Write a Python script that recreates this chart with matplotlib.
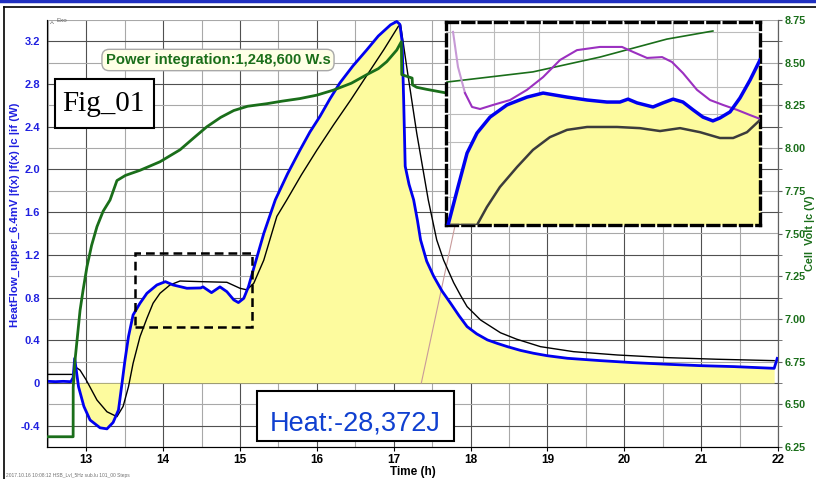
import numpy as np
import matplotlib
matplotlib.use("Agg")
import matplotlib.pyplot as plt
from matplotlib.lines import Line2D
from matplotlib.patches import Rectangle
from matplotlib.ticker import FuncFormatter, MultipleLocator

plt.rcParams['font.family'] = ['Liberation Sans', 'DejaVu Sans']

# heat flow (W) measured, blue
t_blue = [12.50, 12.60, 12.70, 12.80, 12.83, 12.85, 12.90, 12.97, 13.05, 13.18,
          13.27, 13.35, 13.42, 13.46, 13.505, 13.55, 13.61, 13.70, 13.79, 13.92,
          14.03, 14.13, 14.31, 14.49, 14.52, 14.63, 14.74, 14.83, 14.92, 14.98,
          15.05, 15.11, 15.18, 15.31, 15.46, 15.62, 15.78, 15.91, 16.04, 16.17,
          16.30, 16.47, 16.65, 16.80, 16.96, 17.04, 17.08, 17.11, 17.13, 17.15,
          17.20, 17.26, 17.31, 17.35, 17.43, 17.52, 17.63, 17.74, 17.85, 17.955,
          18.08, 18.22, 18.35, 18.48, 18.65, 18.82, 19.00, 19.26, 19.69, 20.12,
          20.56, 20.99, 21.43, 21.95, 21.99]
w_blue = [0.015, 0.012, 0.015, 0.012, 0.05, 0.23, -0.035, -0.22, -0.347, -0.42,
          -0.43, -0.37, -0.253, -0.035, 0.215, 0.434, 0.637, 0.747, 0.84, 0.918,
          0.949, 0.918, 0.887, 0.89, 0.90, 0.846, 0.90, 0.855, 0.778, 0.753,
          0.793, 0.90, 1.075, 1.40, 1.715, 1.96, 2.18, 2.35, 2.496, 2.66,
          2.81, 2.97, 3.12, 3.25, 3.355, 3.386, 3.36, 3.20, 2.65, 2.03,
          1.86, 1.715, 1.52, 1.34, 1.14, 1.0, 0.86, 0.747, 0.63, 0.528,
          0.46, 0.403, 0.37, 0.34, 0.305, 0.278, 0.255, 0.231, 0.209, 0.19,
          0.175, 0.162, 0.153, 0.137, 0.23]

# heat flow model, thin black
t_black = [12.50, 12.84, 12.86, 12.92, 13.00, 13.14, 13.27, 13.40, 13.48, 13.55,
           13.61, 13.70, 13.79, 13.87, 13.96, 14.09, 14.22, 14.49, 14.83, 15.00,
           15.09, 15.18, 15.31, 15.48, 15.61, 15.80, 16.00, 16.22, 16.44, 16.65,
           16.87, 17.06, 17.09, 17.17, 17.30, 17.45, 17.56, 17.65, 17.78, 17.87,
           17.955, 18.13, 18.39, 18.60, 18.91, 19.34, 19.91, 20.56, 21.21, 21.95]
w_black = [0.08, 0.08, 0.15, 0.12, 0.028, -0.16, -0.27, -0.316, -0.22, -0.035,
           0.184, 0.434, 0.606, 0.747, 0.84, 0.918, 0.955, 0.949, 0.943, 0.887,
           0.872, 0.934, 1.15, 1.56, 1.715, 1.95, 2.18, 2.42, 2.65, 2.88,
           3.12, 3.34, 3.355, 2.96, 2.34, 1.715, 1.34, 1.15, 0.94, 0.82,
           0.715, 0.59, 0.47, 0.41, 0.34, 0.293, 0.262, 0.237, 0.222, 0.209]

# cell voltage (V), green, right axis
t_green = [12.50, 12.83, 12.831, 12.855, 12.92, 12.96, 13.01, 13.07, 13.14, 13.22,
           13.31, 13.40, 13.51, 13.70, 13.96, 14.22, 14.40, 14.57, 14.75, 14.92,
           15.10, 15.35, 15.55, 15.78, 16.00, 16.22, 16.45, 16.65, 16.80, 16.91,
           17.04, 17.10, 17.105, 17.24, 17.245, 17.30, 17.43, 17.67]
v_green = [6.31, 6.31, 6.60, 6.76, 7.05, 7.17, 7.306, 7.43, 7.54, 7.63,
           7.696, 7.81, 7.84, 7.87, 7.92, 7.99, 8.06, 8.125, 8.18, 8.22,
           8.245, 8.26, 8.275, 8.29, 8.31, 8.34, 8.38, 8.43, 8.465, 8.506,
           8.574, 8.623, 8.43, 8.41, 8.37, 8.356, 8.344, 8.324]

# magnified view (same units as the dashed box)
ti_blue = [13.66, 13.708, 13.752, 13.80, 13.863, 13.945, 14.042, 14.12, 14.236, 14.333,
           14.429, 14.492, 14.531, 14.575, 14.652, 14.70, 14.749, 14.797, 14.846, 14.894,
           14.942, 14.976, 15.025, 15.073, 15.122, 15.17]
wi_blue = [0.50, 0.631, 0.748, 0.817, 0.872, 0.914, 0.941, 0.955, 0.941, 0.931,
           0.924, 0.924, 0.934, 0.921, 0.907, 0.921, 0.934, 0.924, 0.897, 0.872,
           0.859, 0.869, 0.890, 0.938, 1.0, 1.069]
ti_black = [13.66, 13.80, 13.848, 13.911, 13.994, 14.071, 14.153, 14.236, 14.333, 14.478,
            14.589, 14.686, 14.783, 14.88, 14.976, 15.04, 15.107, 15.17]
wi_black = [0.50, 0.50, 0.562, 0.631, 0.70, 0.759, 0.803, 0.828, 0.838, 0.838,
            0.834, 0.824, 0.834, 0.82, 0.80, 0.80, 0.82, 0.862]
ti_purple = [13.684, 13.708, 13.742, 13.776, 13.815, 13.878, 13.96, 14.042, 14.12, 14.202,
             14.284, 14.395, 14.502, 14.555, 14.623, 14.696, 14.744, 14.797, 14.865, 14.928,
             14.991, 15.059, 15.122, 15.17]
wi_purple = [1.166, 1.045, 0.955, 0.907, 0.90, 0.914, 0.931, 0.966, 1.01, 1.069,
             1.103, 1.114, 1.114, 1.097, 1.076, 1.079, 1.062, 1.024, 0.966, 0.931,
             0.914, 0.897, 0.879, 0.866]
ti_green = [13.655, 14.071, 14.395, 14.719, 14.942]
wi_green = [0.993, 1.028, 1.079, 1.141, 1.169]

zoom_box_t = [13.63, 15.16]
zoom_box_w = [0.52, 1.22]
connector_t = [17.36, 17.80]
connector_w = [0.0, 1.48]

BLUE = '#0000f0'
GREEN = '#1a6e1a'
YELLOW = '#fdfb9e'

fig = plt.figure(figsize=(8.16, 4.79), dpi=100)
ax = fig.add_axes([47 / 816, 1 - 447 / 479, 731 / 816, 427 / 479])
ax.set_xlim(12.49, 22.0)
ax.set_ylim(-0.6, 3.4)
ax.set_axisbelow(True)

ax.xaxis.set_major_locator(MultipleLocator(1))
ax.xaxis.set_minor_locator(MultipleLocator(0.5))
ax.yaxis.set_major_locator(MultipleLocator(0.4))
ax.yaxis.set_minor_locator(MultipleLocator(0.2))
ax.grid(which='major', color='#505050', lw=0.8)
ax.grid(which='minor', color='#a8a8a8', lw=0.8)
ax.yaxis.set_major_formatter(FuncFormatter(lambda v, p: '0' if abs(v) < 1e-9 else f'{v:.1f}'))
ax.tick_params(axis='y', which='both', length=0, pad=5, labelsize=8, labelcolor='#2020e0')
ax.tick_params(axis='x', which='major', length=3, pad=2, labelsize=8.5)
ax.tick_params(axis='x', which='minor', length=0)
for lab in ax.get_xticklabels() + ax.get_yticklabels():
    lab.set_fontweight('bold')
ax.spines['top'].set_visible(False)
for s in ('left', 'bottom', 'right'):
    ax.spines[s].set_color('#606060')

ax.fill_between(t_blue[5:-1], 0, w_blue[5:-1], color=YELLOW, lw=0, zorder=1)
ax.plot(connector_t, connector_w, color='#c89a9a', lw=0.8, zorder=2)
ax.plot(t_black, w_black, color='black', lw=1.0, zorder=3)
ax.plot(t_blue, w_blue, color=BLUE, lw=2.0, zorder=4)
ax.add_patch(Rectangle((zoom_box_t[0], zoom_box_w[0]), zoom_box_t[1] - zoom_box_t[0],
                       zoom_box_w[1] - zoom_box_w[0], fill=False, ec='black', lw=1.8,
                       ls=(0, (3.5, 2)), zorder=5))

ax.set_ylabel('HeatFlow_upper_6.4mV |f(x) |f(x) |c |if (W)', color='#2020e0',
              fontweight='bold', fontsize=8.2)
ax.yaxis.set_label_coords(-0.037, 0.545)
ax.set_xlabel('Time (h)', fontweight='bold', fontsize=8.5, labelpad=0)

ax2 = ax.twinx()
ax2.set_ylim(6.25, 8.75)
ax2.yaxis.set_major_locator(MultipleLocator(0.25))
ax2.yaxis.set_minor_locator(MultipleLocator(0.125))
ax2.yaxis.set_major_formatter(FuncFormatter(lambda v, p: f'{v:.2f}'))
ax2.tick_params(axis='y', which='both', length=3, pad=1.5, labelsize=7.8,
                labelcolor=GREEN, color='#606060')
for lab in ax2.get_yticklabels():
    lab.set_fontweight('bold')
ax2.spines['top'].set_visible(False)
ax2.spines['right'].set_color('#606060')
ax2.plot(t_green, v_green, color=GREEN, lw=2.0, zorder=3)
ax2.set_ylabel('Cell  Volt |c (V)', color=GREEN, fontweight='bold', fontsize=7.8)
ax2.yaxis.set_label_coords(1.037, 0.5)

# magnified inset
axi = fig.add_axes([446 / 816, 1 - 225 / 479, 314 / 816, 203 / 479], zorder=10)
axi.set_xlim(13.65, 15.17)
axi.set_ylim(0.5, 1.2)
axi.set_xticks(np.arange(13.669, 15.1, 0.2155))
axi.set_yticks(np.arange(0.597, 1.19, 0.0948))
axi.grid(True, color='#bcbcbc', lw=0.8)
axi.set_axisbelow(True)
axi.tick_params(length=0, labelbottom=False, labelleft=False)
axi.fill_between(ti_blue, 0.5, wi_blue, color=YELLOW, lw=0, zorder=1)
axi.plot(ti_green, wi_green, color=GREEN, lw=1.2, zorder=2)
axi.plot(ti_purple[:3], wi_purple[:3], color='#c79ad6', lw=1.5, zorder=3)
axi.plot(ti_purple[2:], wi_purple[2:], color='#9b30c0', lw=1.5, zorder=3)
axi.plot(ti_black, wi_black, color='#3c3c3c', lw=1.8, zorder=3)
axi.plot(ti_blue, wi_blue, color=BLUE, lw=2.5, zorder=4)
for s in axi.spines.values():
    s.set_linestyle((0, (3.3, 1.6)))
    s.set_linewidth(2.4)
    s.set_color('black')

# annotations
fig.text(218 / 816, 1 - 60 / 479, 'Power integration:1,248,600 W.s', color=GREEN,
         fontsize=10.6, fontweight='bold', ha='center', va='center',
         bbox=dict(boxstyle='round,pad=0.25,rounding_size=0.5', fc='#ffffe6', ec='#a8a8a8', lw=1))
fig.patches.append(Rectangle((55 / 816, 1 - 128 / 479), 99 / 816, 49 / 479,
                             transform=fig.transFigure, fc='white', ec='black', lw=1.5, zorder=20))
fig.text(103 / 816, 1 - 104 / 479, 'Fig_01', family='Liberation Serif', fontsize=21,
         ha='center', va='center', zorder=21)
fig.patches.append(Rectangle((256.5 / 816, 1 - 440.5 / 479), 197.5 / 816, 49.5 / 479,
                             transform=fig.transFigure, fc='white', ec='black', lw=1.5, zorder=20))
fig.text(355.5 / 816, 1 - 423 / 479, 'Heat:-28,372J', color='#1040d0', fontsize=19.5,
         ha='center', va='center', zorder=21)

fig.text(52 / 816, 1 - 24 / 479, '^', fontsize=6, color='#606060', ha='center', va='center')
fig.text(56 / 816, 1 - 21 / 479, 'Exo', fontsize=4.5, color='#606060', ha='left', va='center')
fig.text(6 / 816, 1 - 475 / 479, '2017.10.16 10:08:12 HSB_Lvl_5Hz sub.lu 101_00 Steps',
         fontsize=3.5, color='#707070', ha='left', va='center')

# window frame
fig.add_artist(Line2D([0, 1], [0.998, 0.998], color='#2030c0', lw=2.5))
fig.add_artist(Line2D([3.5 / 816, 1], [1 - 7 / 479, 1 - 7 / 479], color='black', lw=1.2))
fig.add_artist(Line2D([3.5 / 816, 3.5 / 816], [0, 1 - 7 / 479], color='black', lw=1.2))

fig.savefig('out.png', dpi=100)
